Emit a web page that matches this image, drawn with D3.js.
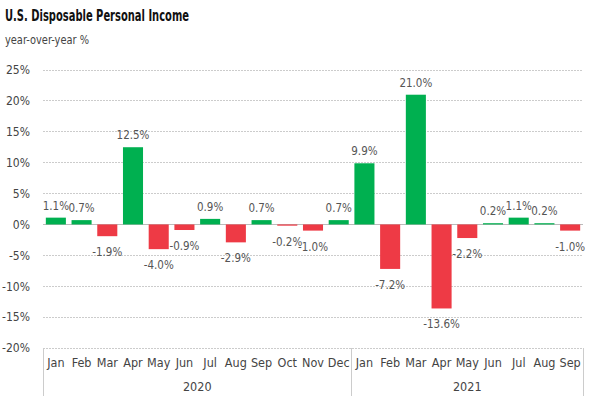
<!DOCTYPE html>
<html>
<head>
<meta charset="utf-8">
<script src="https://cdn.jsdelivr.net/npm/d3@7"></script>
<style>
  body { margin: 0; background: #fff; }
  text { font-family: "Liberation Sans Narrow", "DejaVu Sans Condensed", "DejaVu Sans", sans-serif; font-stretch: condensed; }
</style>
</head>
<body>
<svg id="chart"></svg>
<script>
const months = ["Jan","Feb","Mar","Apr","May","Jun","Jul","Aug","Sep","Oct","Nov","Dec",
                "Jan","Feb","Mar","Apr","May","Jun","Jul","Aug","Sep"];
const years = ["2020", "2021"];
const monthsPerYear = [12, 9];
const values = [1.1, 0.7, -1.9, 12.5, -4.0, -0.9, 0.9, -2.9, 0.7, -0.2, -1.0, 0.7,
                9.9, -7.2, 21.0, -13.6, -2.2, 0.2, 1.1, 0.2, -1.0];
const yTicks = [25, 20, 15, 10, 5, 0, -5, -10, -15, -20];

const width = 599, height = 399;
const margin = { top: 70, right: 16, bottom: 51, left: 43 };

const svg = d3.select("#chart").attr("width", width).attr("height", height);

const ids = d3.range(values.length);
const x = d3.scaleBand()
  .domain(ids)
  .range([margin.left, width - margin.right])
  .paddingInner(0.22)
  .paddingOuter(0.11);

const y = d3.scaleLinear()
  .domain([-20, 25])
  .range([height - margin.bottom, margin.top]);

// Title
svg.append("text")
  .attr("x", 5).attr("y", 21)
  .attr("font-size", 15).attr("font-weight", "bold").attr("fill", "#111")
  .attr("textLength", 184).attr("lengthAdjust", "spacingAndGlyphs")
  .text("U.S. Disposable Personal Income");
svg.append("text")
  .attr("x", 5).attr("y", 44)
  .attr("font-size", 13).attr("fill", "#444")
  .attr("textLength", 84).attr("lengthAdjust", "spacingAndGlyphs")
  .text("year-over-year %");

// Gridlines
svg.append("g")
  .selectAll("line")
  .data(yTicks)
  .enter()
  .append("line")
  .attr("x1", margin.left).attr("x2", width - margin.right)
  .attr("y1", d => y(d)).attr("y2", d => y(d))
  .attr("stroke", d => d === 0 ? "#bbb" : "#ccc")
  .attr("stroke-width", 1)
  .attr("stroke-dasharray", d => d === 0 ? null : "1.5,1.5")
  .attr("shape-rendering", "crispEdges");

// Y axis labels
const yAxis = svg.append("g")
  .attr("transform", `translate(${margin.left - 10},0)`)
  .call(d3.axisLeft(y).tickValues(yTicks).tickSize(0).tickFormat(d => d + "%"));
yAxis.select(".domain").remove();
yAxis.selectAll("text")
  .attr("font-size", 12).attr("fill", "#444")
  .attr("font-family", null);

// Bars
svg.append("g")
  .selectAll("rect")
  .data(ids)
  .enter()
  .append("rect")
  .attr("x", i => x(i))
  .attr("width", x.bandwidth())
  .attr("y", i => y(Math.max(0, values[i])))
  .attr("height", i => Math.abs(y(values[i]) - y(0)))
  .attr("fill", i => values[i] >= 0 ? "#00b050" : "#ee3a45");

// Value labels
svg.append("g")
  .selectAll("text")
  .data(ids)
  .enter()
  .append("text")
  .attr("x", i => x(i) + x.bandwidth() / 2)
  .attr("y", i => values[i] >= 0 ? y(values[i]) - 8 : y(values[i]) + 20)
  .attr("text-anchor", "middle")
  .attr("font-size", 11.5).attr("fill", "#555")
  .text(i => values[i].toFixed(1) + "%");

// Month labels
const xAxis = svg.append("g")
  .attr("transform", `translate(0,${height - margin.bottom})`)
  .call(d3.axisBottom(x).tickSize(0).tickFormat(i => months[i]));
xAxis.select(".domain").remove();
xAxis.selectAll("text")
  .attr("dy", 0).attr("y", 19)
  .attr("font-size", 12.5).attr("fill", "#444")
  .attr("font-family", null);

// Year groups
const step = x.step();
let start = 0;
const groups = years.map((yr, k) => {
  const g = { year: yr, start, end: start + monthsPerYear[k] };
  start += monthsPerYear[k];
  return g;
});
const edge = i => i === 0 ? margin.left : i === values.length ? width - margin.right : x(i) - step * x.paddingInner() / 2;

svg.append("g")
  .selectAll("line")
  .data([0, ...groups.map(g => g.end)])
  .enter()
  .append("line")
  .attr("x1", d => edge(d)).attr("x2", d => edge(d))
  .attr("y1", height - margin.bottom).attr("y2", height - 3)
  .attr("stroke", "#ccc")
  .attr("shape-rendering", "crispEdges");

svg.append("g")
  .selectAll("text")
  .data(groups)
  .enter()
  .append("text")
  .attr("x", g => (edge(g.start) + edge(g.end)) / 2)
  .attr("y", height - 8)
  .attr("text-anchor", "middle")
  .attr("font-size", 12.5).attr("fill", "#444")
  .text(g => g.year);
</script>
</body>
</html>
